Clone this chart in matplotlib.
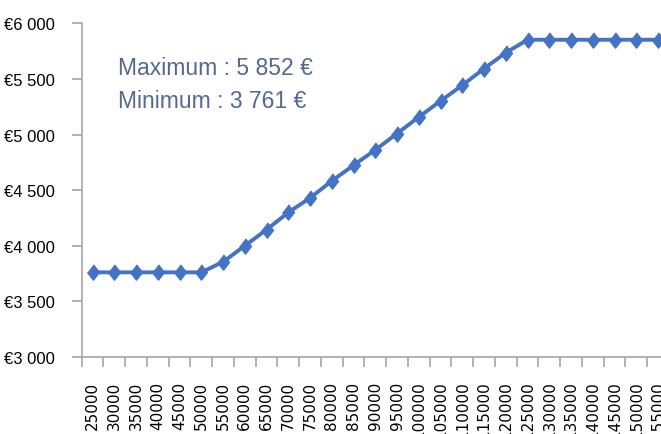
import matplotlib
matplotlib.use("Agg")
import matplotlib.pyplot as plt
from matplotlib.ticker import FixedLocator, FuncFormatter

incomes = [25000, 30000, 35000, 40000, 45000, 50000, 55000, 60000, 65000, 70000,
           75000, 80000, 85000, 90000, 95000, 100000, 105000, 110000, 115000, 120000,
           125000, 130000, 135000, 140000, 145000, 150000, 155000]
values = [3761, 3761, 3761, 3761, 3761, 3761, 3855, 4000, 4145, 4300,
          4430, 4583, 4724, 4862, 5009, 5158, 5302, 5443, 5593, 5736,
          5852, 5852, 5852, 5852, 5852, 5852, 5852]
y_ticks = [3000, 3500, 4000, 4500, 5000, 5500, 6000]
max_text = "Maximum : 5 852 €"
min_text = "Minimum : 3 761 €"

W, H = 661, 435
fig = plt.figure(figsize=(W / 100, H / 100), dpi=100)
left, right, top, bottom = 81.7, 669.0, 24.3, 358.0
ax = fig.add_axes([left / W, 1 - bottom / H, (right - left) / W, (bottom - top) / H])

x = list(range(len(incomes)))
blue = "#4472C4"
ax.plot(x, values, color=blue, lw=2.8, marker=[(0, 1), (0.78, 0), (0, -1), (-0.78, 0)],
        ms=11, mfc=blue, mec=blue, solid_joinstyle="round", clip_on=False, zorder=3)

ax.set_xlim(-0.5, len(incomes) - 0.5)
ax.set_ylim(3000, 6000)

spine_c = "#A6A6A6"
for s in ["top", "right"]:
    ax.spines[s].set_visible(False)
for s in ["left", "bottom"]:
    ax.spines[s].set_color(spine_c)
    ax.spines[s].set_linewidth(1.2)

# x: labels at category centers, tick marks between categories
ax.set_xticks(x)
ax.set_xticklabels([str(v) for v in incomes], rotation=90, fontsize=11,
                   family="DejaVu Sans", color="black")
ax.tick_params(axis="x", which="major", length=0, pad=17)
ax.xaxis.set_minor_locator(FixedLocator([i - 0.5 for i in range(len(incomes) + 1)]))
ax.tick_params(axis="x", which="minor", length=7, width=1.2, color=spine_c)

ax.set_yticks(y_ticks)
ax.yaxis.set_major_formatter(FuncFormatter(lambda v, p: "€" + f"{int(v):,}".replace(",", " ")))
ax.tick_params(axis="y", length=7, width=1.2, color=spine_c, pad=12)
for lab in ax.get_yticklabels():
    lab.set_family("Liberation Sans")
    lab.set_fontsize(12)
    lab.set_color("black")

txt_c = "#53698F"
fig.text(118 / W, 1 - 75 / H, max_text, fontsize=16.5, family="Liberation Sans",
         color=txt_c, va="baseline", ha="left")
fig.text(118 / W, 1 - 108 / H, min_text, fontsize=16.5, family="Liberation Sans",
         color=txt_c, va="baseline", ha="left")

fig.savefig("out.png", dpi=100)
